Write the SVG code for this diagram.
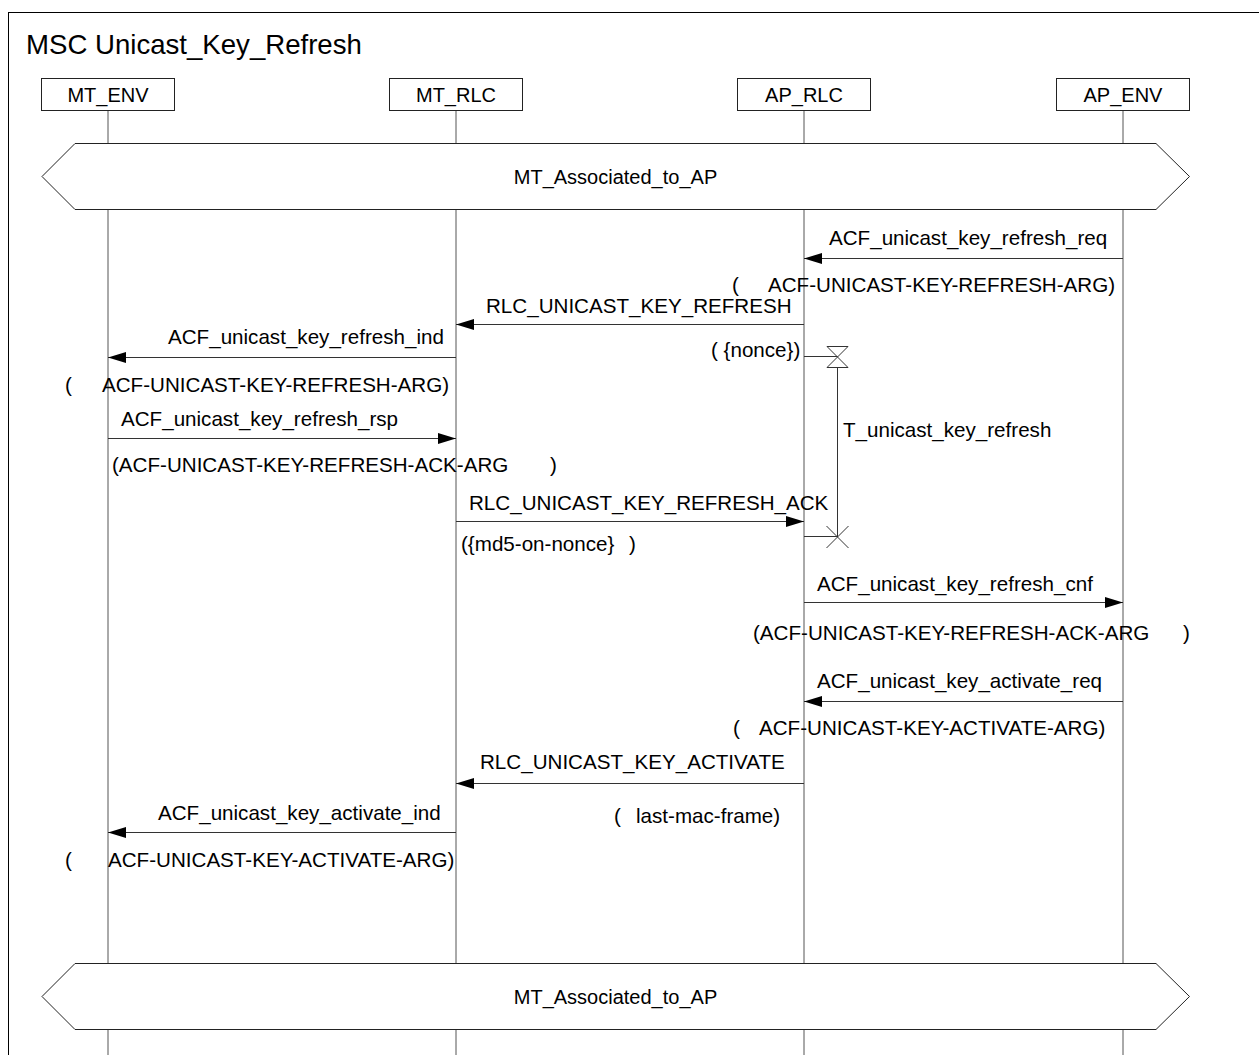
<svg xmlns="http://www.w3.org/2000/svg" width="1259" height="1055" viewBox="0 0 1259 1055">
  <style>
    text { font-family: "Liberation Sans", Arial, sans-serif; fill: #000; }
    .title { font-size: 27.6px; }
    .inst { font-size: 20px; text-anchor: middle; }
    .lbl { font-size: 20.6px; }
    .cond { font-size: 20px; text-anchor: middle; }
    .frame { fill: none; stroke: #000; stroke-width: 1; }
    .box { fill: #fff; stroke: #222; stroke-width: 1; }
    .life { stroke: #555; stroke-width: 1; fill: none; }
    .hex { fill: #fff; stroke: #222; stroke-width: 1; }
    .msg { stroke: #333; stroke-width: 1; fill: none; marker-end: url(#head); }
    .tmr { stroke: #333; stroke-width: 1; fill: none; }
  </style>
  <defs>
    <marker id="head" markerWidth="18" markerHeight="11" refX="18" refY="5.5" orient="auto" markerUnits="userSpaceOnUse">
      <path d="M0,0 L18,5.5 L0,11 Z" fill="#000"/>
    </marker>
  </defs>

  <rect width="1259" height="1055" fill="#fff"/>
  <!-- diagram frame (right and bottom edges run past the canvas) -->
  <rect class="frame" x="8.5" y="12.5" width="1270" height="1070"/>
  <text class="title" x="26" y="54">MSC Unicast_Key_Refresh</text>

  <!-- instance lifelines -->
  <g id="lifelines">
    <line class="life" x1="108" y1="110" x2="108" y2="1055"/>
    <line class="life" x1="456" y1="110" x2="456" y2="1055"/>
    <line class="life" x1="804" y1="110" x2="804" y2="1055"/>
    <line class="life" x1="1123" y1="110" x2="1123" y2="1055"/>
  </g>

  <g id="MT_ENV">
    <rect class="box" x="41.5" y="78.5" width="133" height="32"/>
    <text class="inst" x="108" y="101.5">MT_ENV</text>
  </g>
  <g id="MT_RLC">
    <rect class="box" x="389.5" y="78.5" width="133" height="32"/>
    <text class="inst" x="456" y="101.5">MT_RLC</text>
  </g>
  <g id="AP_RLC">
    <rect class="box" x="737.5" y="78.5" width="133" height="32"/>
    <text class="inst" x="804" y="101.5">AP_RLC</text>
  </g>
  <g id="AP_ENV">
    <rect class="box" x="1056.5" y="78.5" width="133" height="32"/>
    <text class="inst" x="1123" y="101.5">AP_ENV</text>
  </g>

  <!-- shared conditions -->
  <g id="cond_top">
    <polygon class="hex" points="42,176.5 75,143.5 1156,143.5 1189.5,176.5 1156,209.5 75,209.5"/>
    <text class="cond" x="615.5" y="184">MT_Associated_to_AP</text>
  </g>
  <g id="cond_bottom">
    <polygon class="hex" points="42,996.5 75,963.5 1156,963.5 1189.5,996.5 1156,1029.5 75,1029.5"/>
    <text class="cond" x="615.5" y="1004">MT_Associated_to_AP</text>
  </g>

  <!-- timer T_unicast_key_refresh on AP_RLC -->
  <g id="timer">
    <line class="tmr" x1="804" y1="356.5" x2="837.5" y2="356.5"/>
    <path class="tmr" d="M827,346.5 H848 L827,367.5 H848 Z"/>
    <line class="tmr" x1="837.5" y1="367.5" x2="837.5" y2="537"/>
    <line class="tmr" x1="804" y1="536.5" x2="837.5" y2="536.5"/>
    <line class="tmr" x1="826.5" y1="526" x2="848.5" y2="548"/>
    <line class="tmr" x1="848.5" y1="526" x2="826.5" y2="548"/>
    <text class="lbl" x="843" y="437">T_unicast_key_refresh</text>
  </g>

  <!-- messages -->
  <g id="connectors">
    <line class="msg" x1="1123" y1="258.5" x2="804" y2="258.5"/>
    <line class="msg" x1="804" y1="324.5" x2="456" y2="324.5"/>
    <line class="msg" x1="456" y1="357.5" x2="108" y2="357.5"/>
    <line class="msg" x1="108" y1="438.5" x2="456" y2="438.5"/>
    <line class="msg" x1="456" y1="521.5" x2="804" y2="521.5"/>
    <line class="msg" x1="804" y1="602.5" x2="1123" y2="602.5"/>
    <line class="msg" x1="1123" y1="701.5" x2="804" y2="701.5"/>
    <line class="msg" x1="804" y1="783.5" x2="456" y2="783.5"/>
    <line class="msg" x1="456" y1="832.5" x2="108" y2="832.5"/>
  </g>

  <g id="labels">
    <text class="lbl" x="829" y="245">ACF_unicast_key_refresh_req</text>
    <text class="lbl" y="292"><tspan x="732">(</tspan><tspan x="768">ACF-UNICAST-KEY-REFRESH-ARG)</tspan></text>

    <text class="lbl" x="486" y="313">RLC_UNICAST_KEY_REFRESH</text>
    <text class="lbl" x="711" y="357">( {nonce})</text>

    <text class="lbl" x="168" y="344">ACF_unicast_key_refresh_ind</text>
    <text class="lbl" y="392"><tspan x="65">(</tspan><tspan x="102">ACF-UNICAST-KEY-REFRESH-ARG)</tspan></text>

    <text class="lbl" x="121" y="426">ACF_unicast_key_refresh_rsp</text>
    <text class="lbl" y="472"><tspan x="112">(ACF-UNICAST-KEY-REFRESH-ACK-ARG</tspan><tspan x="550">)</tspan></text>

    <text class="lbl" x="469" y="510">RLC_UNICAST_KEY_REFRESH_ACK</text>
    <text class="lbl" y="551"><tspan x="461">({md5-on-nonce}</tspan><tspan x="629">)</tspan></text>

    <text class="lbl" x="817" y="591">ACF_unicast_key_refresh_cnf</text>
    <text class="lbl" y="640"><tspan x="753">(ACF-UNICAST-KEY-REFRESH-ACK-ARG</tspan><tspan x="1183">)</tspan></text>

    <text class="lbl" x="817" y="688">ACF_unicast_key_activate_req</text>
    <text class="lbl" y="735"><tspan x="733">(</tspan><tspan x="759">ACF-UNICAST-KEY-ACTIVATE-ARG)</tspan></text>

    <text class="lbl" x="480" y="769">RLC_UNICAST_KEY_ACTIVATE</text>
    <text class="lbl" y="823"><tspan x="614">(</tspan><tspan x="636">last-mac-frame)</tspan></text>

    <text class="lbl" x="158" y="820">ACF_unicast_key_activate_ind</text>
    <text class="lbl" y="867"><tspan x="65">(</tspan><tspan x="108">ACF-UNICAST-KEY-ACTIVATE-ARG)</tspan></text>
  </g>
</svg>
